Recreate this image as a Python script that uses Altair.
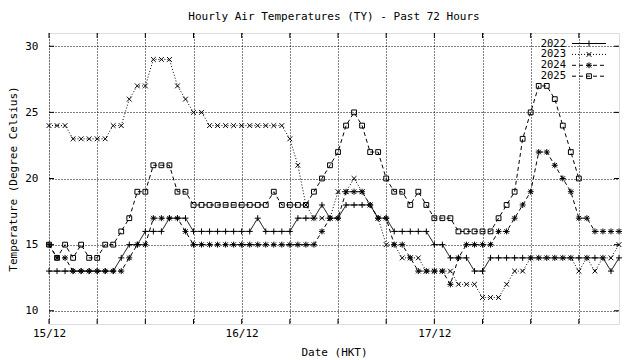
import altair as alt
import pandas as pd

# ---------------- data ----------------
hours = list(range(72))                      # 0 = 00:00 15/12 ... 71
years = ["2022", "2023", "2024", "2025"]

t2022 = [13, 13, 13, 13, 13, 13, 13, 13, 13, 14, 15, 15, 16, 16, 16, 17, 17, 17,
         16, 16, 16, 16, 16, 16, 16, 16, 17, 16, 16, 16, 16, 17, 17, 17, 18, 17,
         17, 18, 18, 18, 18, 17, 17, 16, 16, 16, 16, 16, 15, 15, 14, 14, 14, 13,
         13, 14, 14, 14, 14, 14, 14, 14, 14, 14, 14, 14, 14, 14, 14, 14, 13, 14]
t2023 = [24, 24, 24, 23, 23, 23, 23, 23, 24, 24, 26, 27, 27, 29, 29, 29, 27, 26,
         25, 25, 24, 24, 24, 24, 24, 24, 24, 24, 24, 24, 23, 21, 18, 17, 17, 17,
         19, 19, 20, 19, 18, 17, 15, 15, 14, 14, 14, 13, 13, 13, 13, 12, 12, 12,
         11, 11, 11, 12, 13, 13, 14, 14, 14, 14, 14, 14, 13, 14, 13, 14, 14, 15]
t2024 = [15, 14, 14, 13, 13, 13, 13, 13, 13, 13, 14, 15, 15, 17, 17, 17, 17, 16,
         15, 15, 15, 15, 15, 15, 15, 15, 15, 15, 15, 15, 15, 15, 15, 15, 16, 17,
         17, 19, 19, 19, 18, 17, 17, 15, 15, 14, 13, 13, 13, 13, 12, 14, 15, 15,
         15, 15, 16, 16, 17, 18, 19, 22, 22, 21, 20, 19, 17, 17, 16, 16, 16, 16]
t2025 = [15, 14, 15, 14, 15, 14, 14, 15, 15, 16, 17, 19, 19, 21, 21, 21, 19, 19,
         18, 18, 18, 18, 18, 18, 18, 18, 18, 18, 19, 18, 18, 18, 18, 19, 20, 21,
         22, 24, 25, 24, 22, 22, 20, 19, 19, 18, 19, 18, 17, 17, 17, 16, 16, 16,
         16, 16, 17, 18, 19, 23, 25, 27, 27, 26, 24, 22, 20]

day_labels = {0: "15/12", 24: "16/12", 48: "17/12"}
x_tick_values = list(range(0, 72, 6))
y_tick_values = [10, 15, 20, 25, 30]

title_text = "Hourly Air Temperatures (TY) - Past 72 Hours"
x_title = "Date (HKT)"
y_title = "Temperature (Degree Celsius)"

series = {"2022": t2022, "2023": t2023, "2024": t2024, "2025": t2025}
rows = []
for yr in years:
    for h, v in zip(hours, series[yr]):
        rows.append({"hour": h, "year": yr, "temp": v})
df = pd.DataFrame(rows)

# ---------------- style ----------------
FONT = "DejaVu Sans Mono"
FS = 11
W, H = 570, 291
TICK = 5

PLUS = "M-1,0H1M0,-1V1"
CROSS = "M-0.8,-0.8L0.8,0.8M-0.8,0.8L0.8,-0.8"
STAR = "M-1,0H1M0,-1V1M-0.75,-0.75L0.75,0.75M-0.75,0.75L0.75,-0.75"
SQUARE = "M-0.8,-0.8H0.8V0.8H-0.8Z"
shape_range = [PLUS, CROSS, STAR, SQUARE]
dash_range = [[1, 0], [1, 2], [4, 3], [4, 3]]

x_scale = alt.Scale(domain=[0, 71], nice=False, zero=False)
y_scale = alt.Scale(domain=[9, 31], nice=False, zero=False)
dash_scale = alt.Scale(domain=years, range=dash_range)
shape_scale = alt.Scale(domain=years, range=shape_range)

label_expr = " : ".join(
    f"datum.value == {k} ? '{v}'" for k, v in day_labels.items()) + " : ''"

x_axis = alt.Axis(values=x_tick_values, labelExpr=label_expr, grid=True,
                  gridDash=[1, 2], gridColor="black", gridOpacity=1,
                  tickSize=0, domain=False, labelFont=FONT, labelFontSize=FS,
                  labelColor="black", labelPadding=3, labelOverlap=False,
                  labelFlush=False, title=x_title, titleFont=FONT,
                  titleFontSize=FS, titleFontWeight="normal", titleColor="black",
                  titleY=28, titleBaseline="middle")
y_axis = alt.Axis(values=y_tick_values, grid=True, gridDash=[1, 2],
                  gridColor="black", gridOpacity=1, tickSize=0, domain=False,
                  labelFont=FONT, labelFontSize=FS, labelColor="black",
                  labelPadding=11, title=y_title, titleFont=FONT,
                  titleFontSize=FS, titleFontWeight="normal", titleColor="black",
                  titleX=-36, titleY=H / 2, titleAngle=270,
                  titleBaseline="middle", titleAlign="center")

X = alt.X("hour:Q", scale=x_scale, axis=x_axis)
Y = alt.Y("temp:Q", scale=y_scale, axis=y_axis)

base = alt.Chart(df)
lines = base.mark_line(color="black", strokeWidth=1).encode(
    x=X, y=Y,
    strokeDash=alt.StrokeDash("year:N", scale=dash_scale, legend=None),
    detail="year:N",
)
points = base.mark_point(color="black", filled=False, strokeWidth=1, size=36,
                         opacity=1).encode(
    x=X, y=Y,
    shape=alt.Shape("year:N", scale=shape_scale, legend=None),
)

# inward ticks (gnuplot style) on all four sides
xt = pd.DataFrame({"hour": x_tick_values})
yt = pd.DataFrame({"temp": y_tick_values})
tick_b = alt.Chart(xt).mark_rule(color="black", strokeWidth=1).encode(
    x=X, y=alt.value(H), y2=alt.value(H - TICK))
tick_t = alt.Chart(xt).mark_rule(color="black", strokeWidth=1).encode(
    x=X, y=alt.value(0), y2=alt.value(TICK))
tick_l = alt.Chart(yt).mark_rule(color="black", strokeWidth=1).encode(
    y=Y, x=alt.value(0), x2=alt.value(TICK))
tick_r = alt.Chart(yt).mark_rule(color="black", strokeWidth=1).encode(
    y=Y, x=alt.value(W), x2=alt.value(W - TICK))

# legend (top right, label left of sample line)
leg_layers = []
for i, yr in enumerate(years):
    ly = 10.5 + 10.9 * i
    one = pd.DataFrame({"year": [yr]})
    c = alt.Chart(one)
    leg_layers.append(c.mark_text(font=FONT, fontSize=10.5, align="right",
                                  baseline="middle", color="black").encode(
        text="year:N", x=alt.value(517), y=alt.value(ly)))
    leg_layers.append(c.mark_rule(color="black", strokeWidth=1).encode(
        x=alt.value(523), x2=alt.value(557), y=alt.value(ly),
        strokeDash=alt.value(dash_range[i])))
    leg_layers.append(c.mark_point(color="black", filled=False, strokeWidth=1,
                                   size=36, opacity=1).encode(
        x=alt.value(540), y=alt.value(ly), shape=alt.value(shape_range[i])))

chart = alt.layer(lines, points, tick_b, tick_t, tick_l, tick_r, *leg_layers).properties(
    width=W, height=H,
    title=alt.TitleParams(title_text, font=FONT, fontSize=FS, fontWeight="normal",
                          anchor="middle", color="black", offset=11),
    autosize=alt.AutoSizeParams(type="none"),
    padding={"left": 41, "top": 25, "right": 13, "bottom": 36},
).configure_view(stroke="black", strokeWidth=1).configure(background="white")

chart.save("out.html", embed_options={"renderer": "svg", "actions": False})
